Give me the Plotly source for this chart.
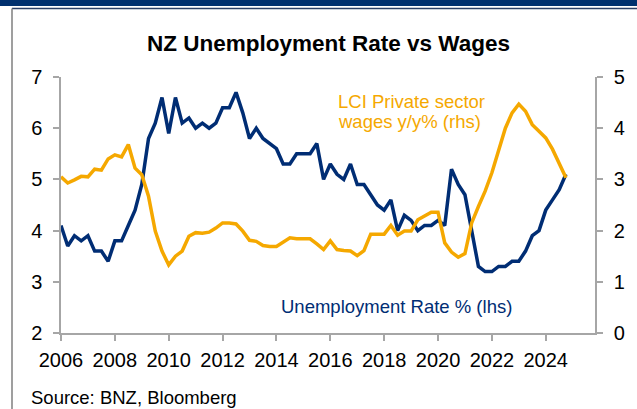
import plotly.graph_objects as go

# Quarterly data, 2006Q1 .. 2024Q4
start_year = 2006
unemployment = [
    4.1, 3.7, 3.9, 3.8, 3.9, 3.6, 3.6, 3.4, 3.8, 3.8, 4.1, 4.4, 4.9, 5.8, 6.1, 6.6,
    5.9, 6.6, 6.1, 6.2, 6.0, 6.1, 6.0, 6.1, 6.4, 6.4, 6.7, 6.3, 5.8, 6.0, 5.8, 5.7,
    5.6, 5.3, 5.3, 5.5, 5.5, 5.5, 5.7, 5.0, 5.3, 5.1, 5.0, 5.3, 4.9, 4.9, 4.7, 4.5,
    4.4, 4.6, 4.0, 4.3, 4.2, 4.0, 4.1, 4.1, 4.2, 4.1, 5.2, 4.9, 4.7, 4.0, 3.3, 3.2,
    3.2, 3.3, 3.3, 3.4, 3.4, 3.6, 3.9, 4.0, 4.4, 4.6, 4.8, 5.1,
]
lci_wages = [
    3.05, 2.93, 2.99, 3.06, 3.05, 3.20, 3.18, 3.40, 3.48, 3.44, 3.68, 3.22, 3.09, 2.67, 1.99, 1.60,
    1.33, 1.50, 1.60, 1.89, 1.96, 1.95, 1.97, 2.05, 2.15, 2.15, 2.13, 1.99, 1.81, 1.79, 1.71, 1.69,
    1.69, 1.78, 1.86, 1.84, 1.84, 1.84, 1.74, 1.63, 1.80, 1.63, 1.61, 1.60, 1.51, 1.61, 1.93, 1.93,
    1.93, 2.10, 1.91, 1.99, 1.99, 2.21, 2.28, 2.36, 2.36, 1.76, 1.58, 1.48, 1.55, 2.15, 2.47, 2.77,
    3.13, 3.58, 4.00, 4.30, 4.47, 4.33, 4.07, 3.94, 3.81, 3.59, 3.32, 3.03,
]
quarters = [f"{start_year + k // 4}Q{k % 4 + 1}" for k in range(len(unemployment))]
x_vals = [int(q[:4]) + (int(q[-1]) - 1) / 4 for q in quarters]

x_ticks = [2006, 2008, 2010, 2012, 2014, 2016, 2018, 2020, 2022, 2024]
left_ticks = [2, 3, 4, 5, 6, 7]
right_ticks = [0, 1, 2, 3, 4, 5]

NAVY = "#002D74"
ORANGE = "#F5A800"
AXIS = "#A6A6A6"
FONT = "Liberation Sans, Arial, sans-serif"

W, H = 637, 409
L, R, T, B = 61, 595, 77, 333


def px_x(p):
    return (p - L) / (R - L)


def px_y(p):
    return (B - p) / (B - T)


fig = go.Figure()
fig.add_trace(go.Scatter(x=x_vals, y=unemployment, mode="lines",
                         line=dict(color=NAVY, width=3.5), yaxis="y",
                         name="Unemployment Rate % (lhs)"))
fig.add_trace(go.Scatter(x=x_vals, y=lci_wages, mode="lines",
                         line=dict(color=ORANGE, width=3.5), yaxis="y2",
                         name="LCI Private sector wages y/y% (rhs)"))

fig.update_layout(
    width=W, height=H,
    margin=dict(l=L, r=W - R, t=T, b=H - B, autoexpand=False),
    paper_bgcolor="white", plot_bgcolor="white",
    showlegend=False,
    font=dict(family=FONT, size=20, color="black"),
    xaxis=dict(range=[2006, 2006 + (R - L) / 26.93], tickvals=x_ticks,
               ticktext=[str(t) for t in x_ticks],
               showgrid=False, zeroline=False, showline=True, linecolor=AXIS,
               linewidth=1.5, ticks="outside", ticklen=6, tickcolor=AXIS,
               tickwidth=1.5, tickfont=dict(size=20), ticklabelstandoff=2),
    yaxis=dict(range=[2, 7], tickvals=left_ticks, showgrid=False, zeroline=False,
               showline=True, linecolor=AXIS, linewidth=1.5, ticks="outside",
               ticklen=6, tickcolor=AXIS, tickwidth=1.5, tickfont=dict(size=20),
               ticklabelstandoff=7),
    yaxis2=dict(range=[0, 5], tickvals=right_ticks, overlaying="y", side="right",
                showgrid=False, zeroline=False, showline=True, linecolor=AXIS,
                linewidth=1.5, ticks="outside", ticklen=6, tickcolor=AXIS,
                tickwidth=1.5, tickfont=dict(size=20), ticklabelstandoff=7),
)

# frame decorations
fig.add_shape(type="rect", xref="paper", yref="paper",
              x0=px_x(0), x1=px_x(W), y0=px_y(6), y1=px_y(0),
              fillcolor="#00306E", line=dict(width=0), layer="above")
fig.add_shape(type="line", xref="paper", yref="paper",
              x0=px_x(12), x1=px_x(W), y0=px_y(8.5), y1=px_y(8.5),
              line=dict(color="#2A3F66", width=1.5))
fig.add_shape(type="line", xref="paper", yref="paper",
              x0=px_x(12), x1=px_x(12), y0=px_y(8.5), y1=px_y(H),
              line=dict(color="#7F7F7F", width=1.5))

annos = [
    dict(text="<b>NZ Unemployment Rate vs Wages</b>", x=px_x(328), y=px_y(43.5),
         xanchor="center", font=dict(size=22.5, color="black")),
    dict(text="LCI Private sector", x=px_x(337), y=px_y(101.7), xanchor="left",
         font=dict(size=18.5, color=ORANGE)),
    dict(text="wages y/y% (rhs)", x=px_x(337), y=px_y(121.5), xanchor="left",
         font=dict(size=18.5, color=ORANGE)),
    dict(text="Unemployment Rate % (lhs)", x=px_x(280), y=px_y(306.7), xanchor="left",
         font=dict(size=18.5, color=NAVY)),
    dict(text="Source: BNZ, Bloomberg", x=px_x(30), y=px_y(397), xanchor="left",
         font=dict(size=18.5, color="black")),
]
for a in annos:
    fig.add_annotation(xref="paper", yref="paper", yanchor="middle",
                       showarrow=False, borderpad=0, **a)

fig.write_html("out.html")
